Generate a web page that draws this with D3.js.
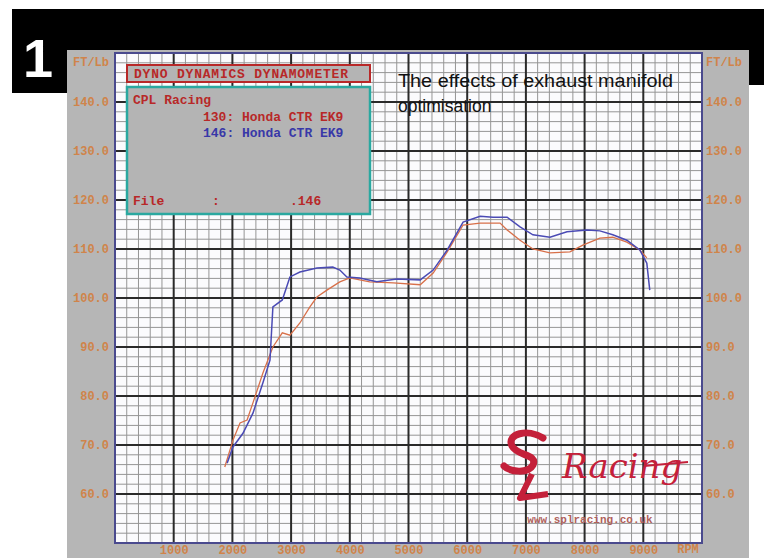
<!DOCTYPE html>
<html>
<head>
<meta charset="utf-8">
<script src="https://cdn.jsdelivr.net/npm/d3@7"></script>
<style>
  body { margin: 0; background: #fff; }
  svg { display: block; }
  .lbl text { font-family: "Liberation Mono", monospace; font-size: 12px; fill: #d0844a; font-weight: bold; }
</style>
</head>
<body>
<svg id="chart" width="764" height="558"></svg>
<script>
// dyno curves: rpm vs ft/lb
const rpm130 = [1870, 2010, 2130, 2250, 2350, 2520, 2690, 2850, 2980, 3150, 3320, 3440, 3610, 3830, 4000, 4340, 4740, 5200, 5420, 5660, 5930, 6220, 6560, 6680, 6900, 7120, 7410, 7750, 7970, 8260, 8480, 8720, 8940, 9060];
const torque130 = [65.5, 71.0, 74.5, 75.1, 78.6, 84.7, 90.0, 92.9, 92.4, 94.9, 98.2, 100.2, 101.6, 103.3, 104.1, 103.3, 103.1, 102.7, 105.1, 109.4, 114.9, 115.3, 115.3, 113.9, 111.8, 110.0, 109.2, 109.4, 110.8, 112.2, 112.4, 111.4, 109.8, 108.2];
const rpm146 = [1910, 2010, 2180, 2350, 2520, 2640, 2690, 2850, 2980, 3150, 3440, 3710, 3830, 3950, 4170, 4460, 4800, 5200, 5420, 5660, 5930, 6220, 6440, 6680, 6900, 7120, 7410, 7700, 8040, 8260, 8480, 8720, 8940, 9060, 9110];
const torque146 = [66.3, 69.6, 72.4, 76.5, 82.7, 87.3, 98.2, 99.6, 104.3, 105.3, 106.1, 106.3, 105.7, 104.3, 104.1, 103.3, 103.9, 103.7, 105.7, 109.8, 115.5, 116.7, 116.5, 116.5, 114.5, 112.9, 112.4, 113.5, 113.9, 113.7, 112.9, 111.8, 109.8, 107.1, 101.6];
const yTicks = [60, 70, 80, 90, 100, 110, 120, 130, 140];
const xTicks = [1000, 2000, 3000, 4000, 5000, 6000, 7000, 8000, 9000];

const svg = d3.select("#chart");

// black header block
svg.append("rect").attr("x", 12).attr("y", 9).attr("width", 752).attr("height", 76).attr("fill", "#000");
svg.append("rect").attr("x", 12).attr("y", 9).attr("width", 60).attr("height", 84).attr("fill", "#000");
svg.append("text").attr("x", 38).attr("y", 77).attr("text-anchor", "middle")
  .attr("font-family", "Liberation Sans, Arial, sans-serif").attr("font-weight", "bold")
  .attr("font-size", 54).attr("fill", "#fff").text("1");

// gray dyno printout
svg.append("rect").attr("x", 67).attr("y", 50).attr("width", 682).attr("height", 508).attr("fill", "#b6b6b6");

const pL = 115, pR = 702, pT = 53, pB = 543;
const x = d3.scaleLinear().domain([0, 10000]).range([pL, pR]);
const y = d3.scaleLinear().domain([50, 150]).range([pB, pT]);

svg.append("rect").attr("x", pL).attr("y", pT).attr("width", pR - pL).attr("height", pB - pT).attr("fill", "#fbfbfd");

// grid
const grid = svg.append("g");
grid.selectAll(".vm").data(d3.range(200, 10000, 200).filter(d => d % 1000 !== 0)).join("line")
  .attr("x1", d => x(d)).attr("x2", d => x(d)).attr("y1", pT).attr("y2", pB)
  .attr("stroke", "#959595").attr("stroke-width", 1);
grid.selectAll(".hm").data(d3.range(52, 150, 2).filter(d => d % 10 !== 0)).join("line")
  .attr("x1", pL).attr("x2", pR).attr("y1", d => y(d)).attr("y2", d => y(d))
  .attr("stroke", "#959595").attr("stroke-width", 1);
grid.selectAll(".vM").data(xTicks).join("line")
  .attr("x1", d => x(d)).attr("x2", d => x(d)).attr("y1", pT).attr("y2", pB)
  .attr("stroke", "#2a2a2a").attr("stroke-width", 2);
grid.selectAll(".hM").data(yTicks.concat([150])).join("line")
  .attr("x1", pL).attr("x2", pR).attr("y1", d => y(d)).attr("y2", d => y(d))
  .attr("stroke", "#2a2a2a").attr("stroke-width", 2);

svg.append("rect").attr("x", pL).attr("y", pT).attr("width", pR - pL).attr("height", pB - pT)
  .attr("fill", "none").attr("stroke", "#4a4a8e").attr("stroke-width", 2);

// axes
const yl = svg.append("g").attr("class", "lbl").attr("transform", `translate(${pL},0)`)
  .call(d3.axisLeft(y).tickValues(yTicks).tickFormat(d3.format(".1f")).tickSize(0).tickPadding(6));
const yr = svg.append("g").attr("class", "lbl").attr("transform", `translate(${pR},0)`)
  .call(d3.axisRight(y).tickValues(yTicks).tickFormat(d3.format(".1f")).tickSize(0).tickPadding(4));
const xb = svg.append("g").attr("class", "lbl").attr("transform", `translate(0,${pB})`)
  .call(d3.axisBottom(x).tickValues(xTicks).tickFormat(d3.format("d")).tickSize(0).tickPadding(2));
[yl, yr, xb].forEach(g => g.select(".domain").remove());

const unit = svg.append("g").attr("class", "lbl");
unit.append("text").attr("x", 109).attr("y", 66).attr("text-anchor", "end").text("FT/Lb");
unit.append("text").attr("x", 706).attr("y", 66).text("FT/Lb");
unit.append("text").attr("x", 688).attr("y", 553).attr("text-anchor", "middle").text("RPM");

// curves
const line = d3.line().x(d => x(d[0])).y(d => y(d[1]));
svg.append("path").datum(d3.zip(rpm130, torque130)).attr("d", line)
  .attr("fill", "none").attr("stroke", "#d8704a").attr("stroke-width", 1.3);
svg.append("path").datum(d3.zip(rpm146, torque146)).attr("d", line)
  .attr("fill", "none").attr("stroke", "#4a4ab4").attr("stroke-width", 1.5);

// legend boxes
const mono = "Liberation Mono, monospace";
svg.append("rect").attr("x", 127).attr("y", 65).attr("width", 243).attr("height", 17)
  .attr("fill", "#b4b4b4").attr("stroke", "#b82828").attr("stroke-width", 2);
svg.append("text").attr("x", 134).attr("y", 78).attr("font-family", mono).attr("font-size", 13)
  .attr("font-weight", "bold").attr("fill", "#b82828").attr("textLength", 214).text("DYNO DYNAMICS DYNAMOMETER");
svg.append("rect").attr("x", 127).attr("y", 87).attr("width", 243).attr("height", 127)
  .attr("fill", "#b4b4b4").attr("stroke", "#2aa8a0").attr("stroke-width", 2.5);
const leg = [
  { t: "CPL Racing", x: 133, y: 104, c: "#b82828" },
  { t: "130: Honda CTR EK9", x: 203, y: 121, c: "#b82828" },
  { t: "146: Honda CTR EK9", x: 203, y: 137, c: "#3838a8" },
  { t: "File", x: 133, y: 205, c: "#b82828" },
  { t: ":", x: 212, y: 205, c: "#b82828" },
  { t: ".146", x: 290, y: 205, c: "#b82828" }
];
svg.selectAll(".leg").data(leg).join("text")
  .attr("x", d => d.x).attr("y", d => d.y).attr("font-family", mono).attr("font-size", 13)
  .attr("font-weight", "bold").attr("fill", d => d.c).text(d => d.t);

// title
const tf = "Liberation Sans, Arial, sans-serif";
svg.append("text").attr("x", 398).attr("y", 87).attr("font-family", tf).attr("font-size", 17.5)
  .attr("textLength", 275).attr("lengthAdjust", "spacingAndGlyphs").attr("fill", "#111")
  .text("The effects of exhaust manifold");
svg.append("text").attr("x", 398).attr("y", 112).attr("font-family", tf).attr("font-size", 17.5)
  .attr("fill", "#111").text("optimisation");

// logo: drawn SL monogram + script word
const red = "#c4203a";
svg.append("path").attr("d", "M543,438 C528,428 506,434 512,446 C517,456 538,454 533,465 C528,474 510,472 504,466")
  .attr("fill", "none").attr("stroke", red).attr("stroke-width", 7).attr("stroke-linecap", "round");
svg.append("path").attr("d", "M532,474 L520,498 L548,494")
  .attr("fill", "none").attr("stroke", red).attr("stroke-width", 6).attr("stroke-linejoin", "round");
svg.append("text").attr("x", 562).attr("y", 478).attr("fill", red).attr("font-family", "DejaVu Serif, serif")
  .attr("font-style", "italic").attr("font-size", 34).text("Racing");
svg.append("line").attr("x1", 644).attr("y1", 466).attr("x2", 688).attr("y2", 462)
  .attr("stroke", red).attr("stroke-width", 2);
svg.append("text").attr("x", 590).attr("y", 523).attr("text-anchor", "middle")
  .attr("font-family", mono).attr("font-weight", "bold").attr("font-size", 11)
  .attr("fill", "#b0605a").text("www.splracing.co.uk");
</script>
</body>
</html>
